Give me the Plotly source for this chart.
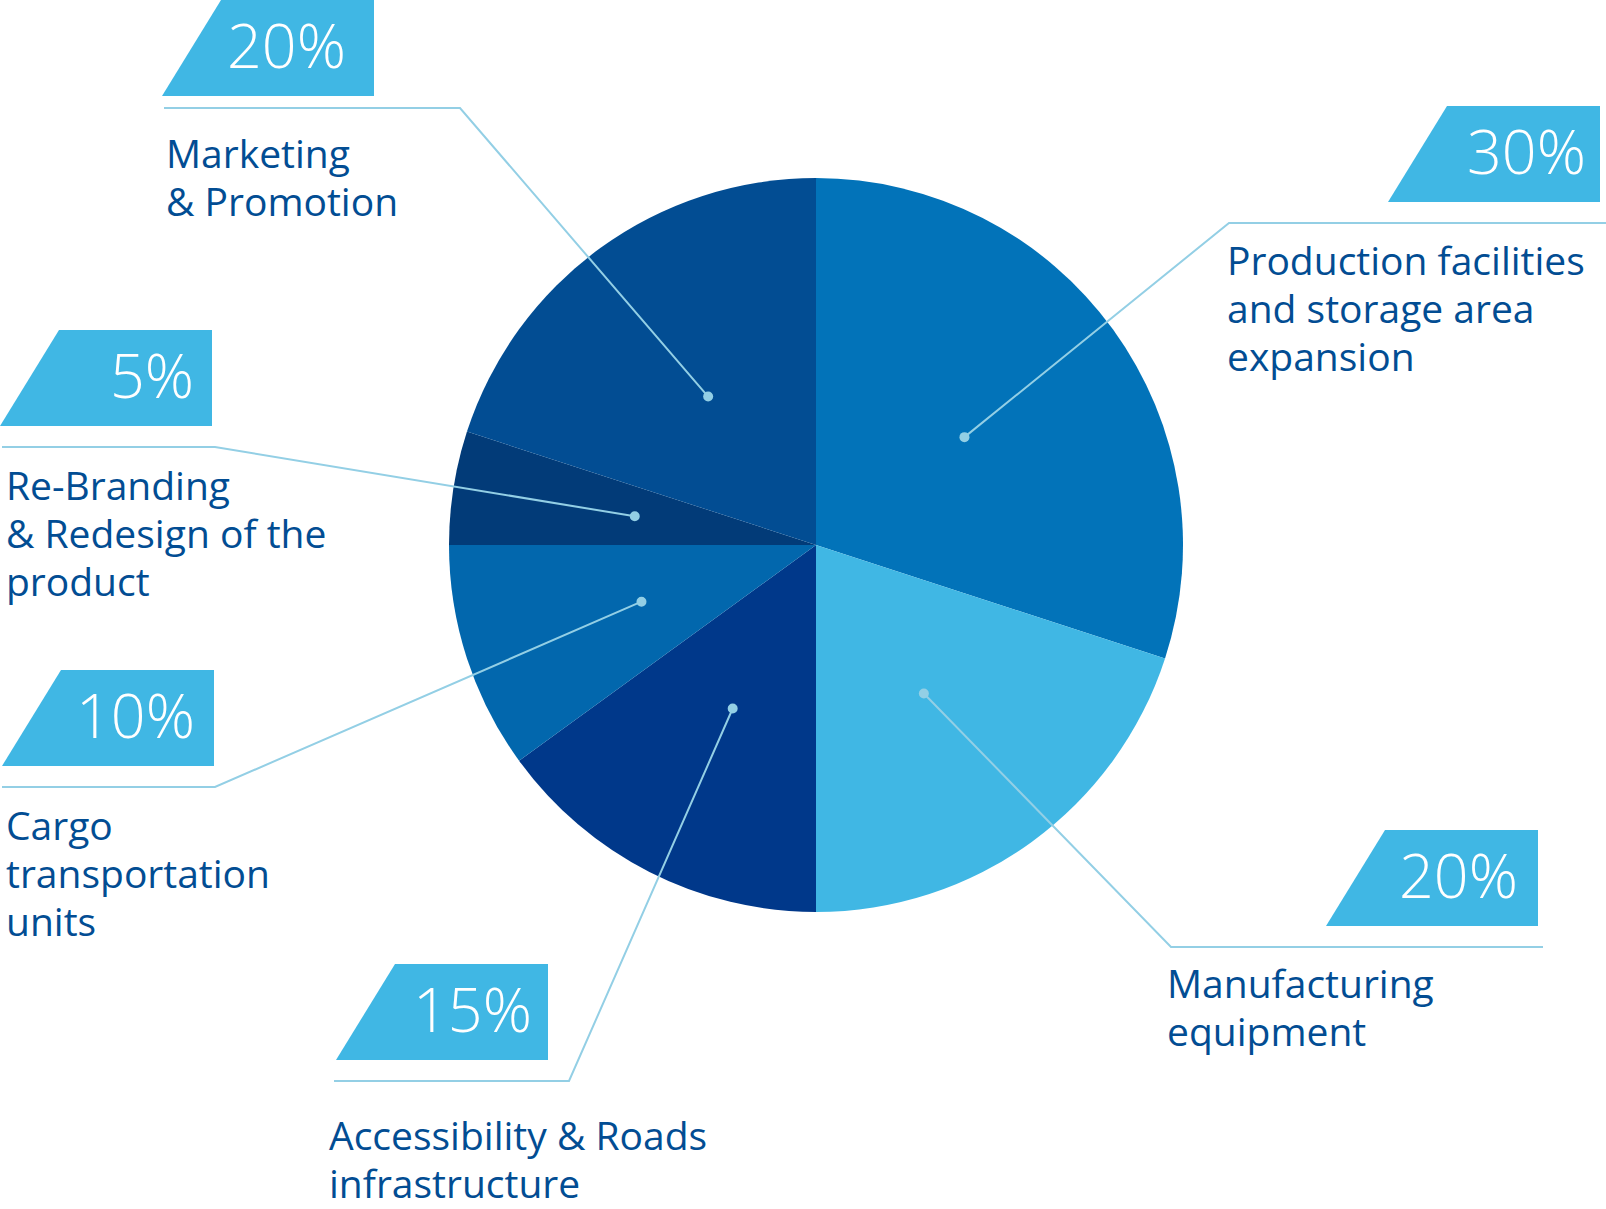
import math
import plotly.graph_objects as go

# ---------------- data ----------------
categories = [
    "Production facilities|and storage area|expansion",
    "Manufacturing|equipment",
    "Accessibility & Roads|infrastructure",
    "Cargo|transportation|units",
    "Re-Branding|& Redesign of the|product",
    "Marketing|& Promotion",
]
values = [30, 20, 15, 10, 5, 20]
pct_labels = ["30%", "20%", "15%", "10%", "5%", "20%"]
slice_colors = ["#0273B9", "#40B7E4", "#00388A", "#0267AD", "#023B78", "#024D93"]

# ---------------- layout constants (pixels) ----------------
W, H = 1606, 1209
CX, CY, R = 816, 545, 367
TEXT_COLOR = "#024D93"
BOX_COLOR = "#40B7E4"
LINE_COLOR = "#93CFE5"
BOX_H, SLANT, BOX_W = 96, 59, 212
LINE_PITCH = 48

box_left = [1388, 1326, 336, 2, 0, 162]
box_top = [106, 830, 964, 670, 330, 0]
pct_gap = [13, 19, 15, 18, 17, 27]
elbow_x = [1229, 1171, 569, 215, 215, 460]
elbow_y = [223, 947, 1081, 787, 447, 108]
line_end_x = [1606, 1543, 334, 2, 2, 164]
label_x = [1226, 1166, 328, 5, 5, 165]
label_base = [277, 1000, 1152, 842, 502, 170]

fig = go.Figure()
fig.add_trace(go.Pie(
    labels=[c.replace("|", " ") for c in categories], values=values, sort=False,
    direction="clockwise", rotation=0,
    marker=dict(colors=slice_colors, line=dict(width=0)),
    textinfo="none", hoverinfo="label+percent", showlegend=False,
    domain=dict(x=[(CX - R) / W, (CX + R) / W], y=[1 - (CY + R) / H, 1 - (CY - R) / H]),
))

shapes = []
annotations = []
total = sum(values)
cum = 0
FS_LABEL = 39
for i, v in enumerate(values):
    mid = (cum + v / 2) / total * 2 * math.pi
    cum += v
    dx = CX + 0.5 * R * math.sin(mid)
    dy = CY - 0.5 * R * math.cos(mid)
    bl = box_left[i]; bt = box_top[i]
    right = bl + BOX_W
    path = f"M {bl},{bt + BOX_H} L {bl + SLANT},{bt} L {right},{bt} L {right},{bt + BOX_H} Z"
    shapes.append(dict(type="path", path=path, xref="x", yref="y", fillcolor=BOX_COLOR,
                       line=dict(width=0), layer="above"))
    shapes.append(dict(type="path", xref="x", yref="y", layer="above",
                       path=f"M {dx},{dy} L {elbow_x[i]},{elbow_y[i]} L {line_end_x[i]},{elbow_y[i]}",
                       line=dict(color=LINE_COLOR, width=2)))
    shapes.append(dict(type="circle", xref="x", yref="y", layer="above",
                       x0=dx - 5, x1=dx + 5, y0=dy - 5, y1=dy + 5,
                       fillcolor=LINE_COLOR, line=dict(width=0)))
    annotations.append(dict(x=right - pct_gap[i], y=bt + BOX_H / 2 - 4, xref="x", yref="y",
                            text=pct_labels[i], showarrow=False, xanchor="right", yanchor="middle",
                            font=dict(family="Open Sans", size=61, color="white", weight=300),
                            borderpad=0))
    for k, line in enumerate(categories[i].split("|")):
        annotations.append(dict(x=label_x[i], y=label_base[i] - 45 + k * LINE_PITCH,
                                xref="x", yref="y", text=line, showarrow=False,
                                xanchor="left", yanchor="top", align="left", borderpad=0,
                                font=dict(family="Open Sans", size=FS_LABEL, color=TEXT_COLOR)))

fig.update_layout(
    width=W, height=H, margin=dict(l=0, r=0, t=0, b=0),
    paper_bgcolor="white", plot_bgcolor="white",
    xaxis=dict(range=[0, W], visible=False, fixedrange=True),
    yaxis=dict(range=[H, 0], visible=False, fixedrange=True),
    shapes=shapes, annotations=annotations,
)
fig.write_html("out.html")
